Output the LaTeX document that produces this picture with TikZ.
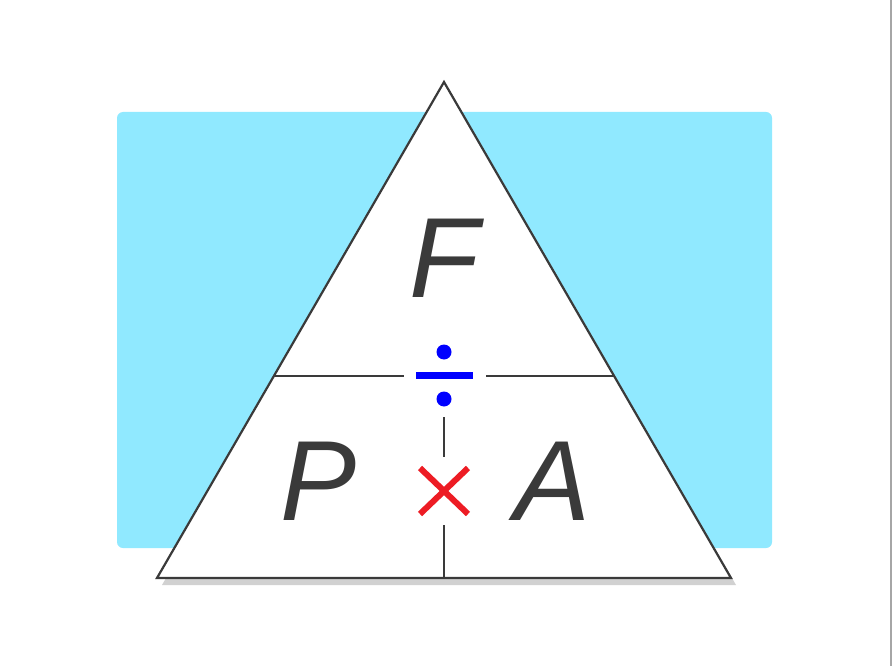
\documentclass[tikz,border=0pt]{standalone}
\usepackage{fontspec}
\setmainfont{Liberation Sans}
\usepackage{xcolor}
\usetikzlibrary{positioning}
\definecolor{skyblue}{RGB}{144,233,255}
\definecolor{inkgray}{RGB}{58,58,58}
\definecolor{crossred}{RGB}{237,28,36}
\def\bigletter{\fontsize{114}{114}\selectfont\itshape}

\begin{document}
\begin{tikzpicture}[x=1pt, y=-1pt, every node/.style={inner sep=0pt},
    letter/.style={text=inkgray, font=\bigletter},
    edge/.style={draw=inkgray, line width=2.2pt, line join=miter},
    split/.style={draw=inkgray, line width=1.6pt}]
        \useasboundingbox (0,0) rectangle (892,666);
        \fill[white] (0,0) rectangle (892,666);
        \draw[gray!70, line width=1.5pt] (891,0) -- (891,666);
        \fill[skyblue, rounded corners=6pt] (117,112) rectangle (772,548);

        \coordinate (top) at (444,82);
        \coordinate (bl) at (157,578);
        \coordinate (br) at (731,578);
        \fill[black!18] ([shift={(5,7)}]top) -- ([shift={(5,7)}]bl) -- ([shift={(5,7)}]br) -- cycle;
        \fill[white] (top) -- (bl) -- (br) -- cycle;
        \draw[edge] (top) -- (bl) -- (br) -- cycle;

        \coordinate (ml) at (274,376);
        \coordinate (mr) at (614,376);
        \coordinate (bm) at (444,578);
        \draw[split] (ml) -- (404,376);
        \draw[split] (486,376) -- (mr);
        \draw[split] (444,417) -- (444,457);
        \draw[split] (444,525) -- (bm);

        \node[letter] (f) at (444,258) {F};
        \node[letter] (p) at (319,481) {P};
        \node[letter] (a) at (553,481) {A};

        % divide sign
        \fill[blue] (416,372) rectangle (473,379);
        \fill[blue] (444,352) circle (7.5);
        \fill[blue] (444,399) circle (7.5);

        % times sign
        \draw[crossred, line width=6pt] (420,468) -- (468,514);
        \draw[crossred, line width=6pt] (468,468) -- (420,514);
        \end{tikzpicture}
\end{document}
